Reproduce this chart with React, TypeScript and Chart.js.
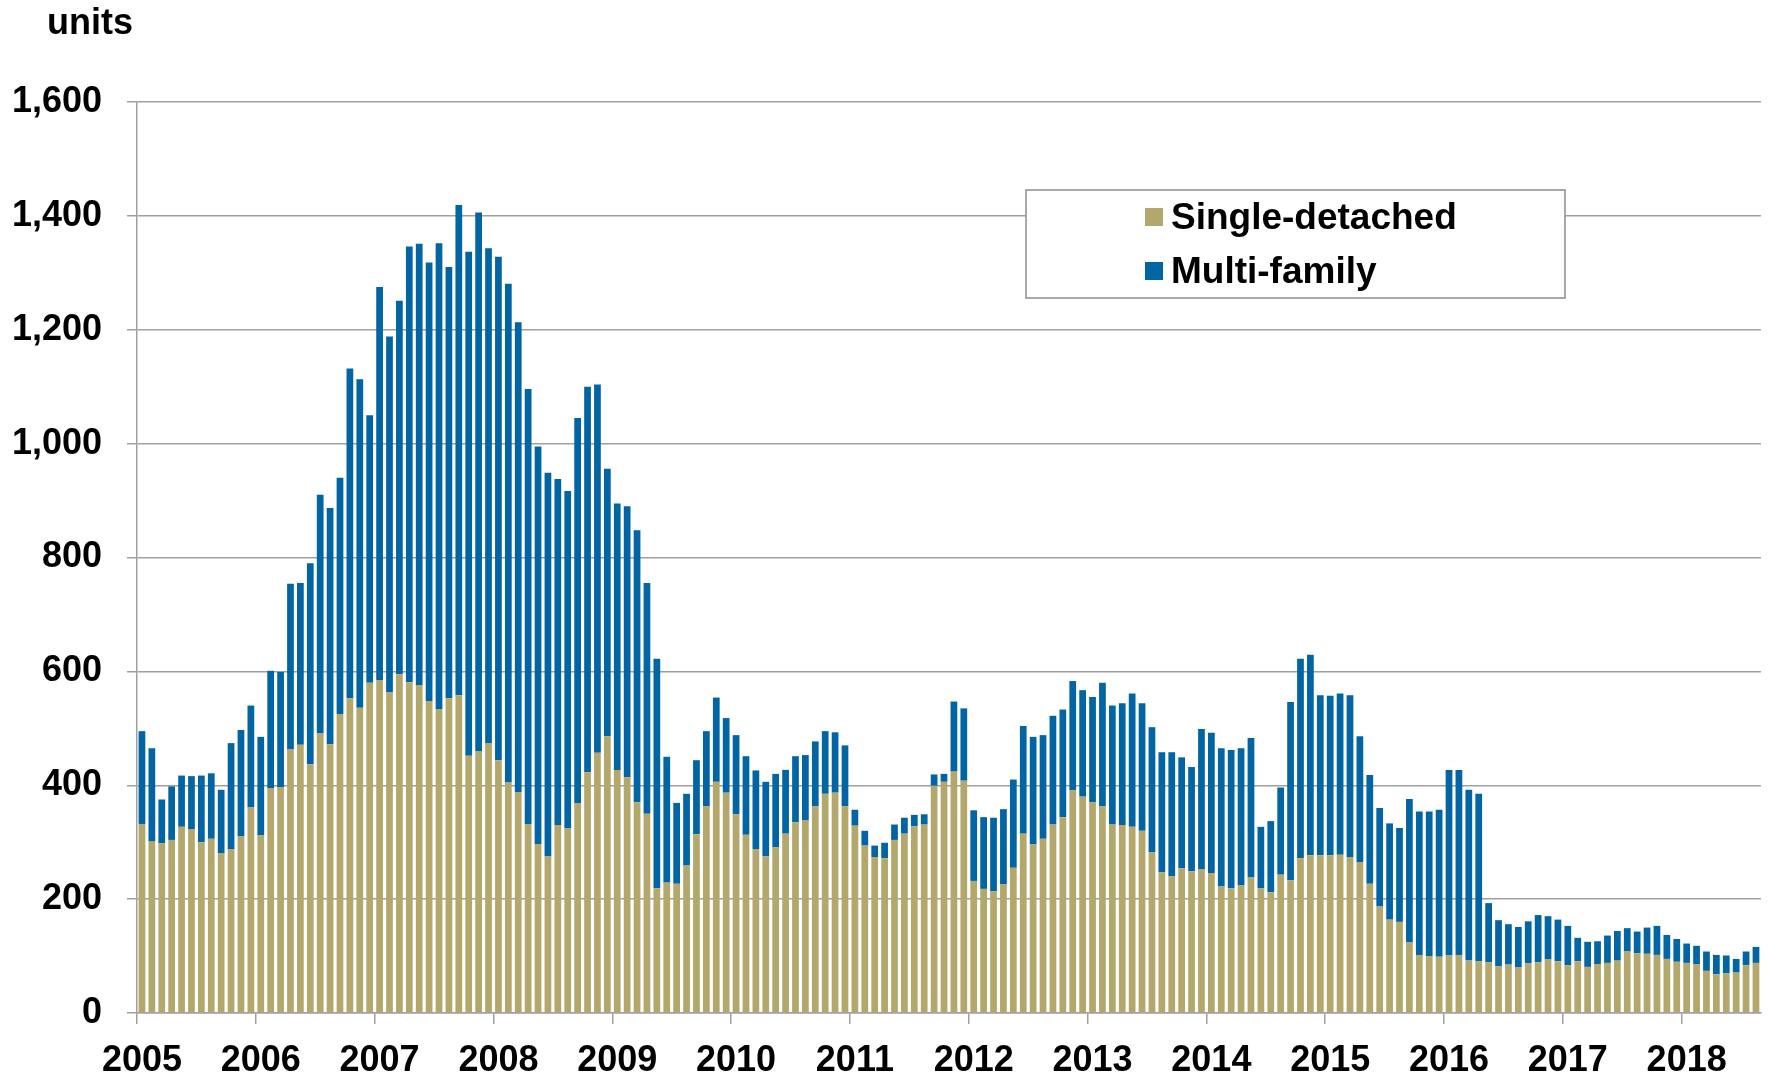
import React, { useEffect, useRef } from 'react';
import { Chart, registerables } from 'chart.js';

Chart.register(...registerables);

const FIRST_YEAR = 2005;
const MONTH_COUNT = 164; // Jan 2005 .. Aug 2018

const categories: string[] = [];
for (let i = 0; i < MONTH_COUNT; i++) {
  categories.push(`${FIRST_YEAR + Math.floor(i / 12)}-${String((i % 12) + 1).padStart(2, '0')}`);
}

const singleDetached: number[] = [
  // 2005
  332, 301, 298, 304, 327, 323, 300, 306, 281, 288, 310, 361,
  // 2006
  312, 395, 397, 463, 471, 437, 491, 472, 525, 553, 536, 580,
  // 2007
  585, 563, 595, 581, 576, 548, 534, 553, 558, 452, 460, 474,
  // 2008
  444, 405, 388, 332, 297, 275, 330, 324, 369, 423, 457, 486,
  // 2009
  427, 414, 370, 350, 219, 229, 227, 259, 314, 363, 406, 387,
  // 2010
  349, 313, 288, 275, 291, 315, 335, 338, 363, 385, 387, 363,
  // 2011
  329, 294, 274, 272, 304, 315, 328, 331, 399, 406, 424, 408,
  // 2012
  232, 218, 214, 226, 255, 315, 296, 306, 331, 344, 391, 380,
  // 2013
  370, 363, 331, 330, 327, 320, 282, 247, 240, 254, 249, 252,
  // 2014
  246, 222, 219, 224, 238, 219, 212, 243, 233, 272, 277, 277,
  // 2015
  277, 278, 274, 265, 227, 187, 164, 160, 124, 102, 100, 99,
  // 2016
  101, 102, 92, 91, 89, 82, 85, 80, 87, 89, 94, 91,
  // 2017
  84, 91, 81, 86, 88, 92, 108, 105, 104, 102, 95, 90,
  // 2018
  88, 86, 74, 68, 70, 71, 84, 88,
];

const multiFamily: number[] = [
  // 2005
  163, 164, 77, 94, 90, 93, 117, 115, 111, 186, 187, 179,
  // 2006
  173, 206, 202, 291, 284, 353, 419, 415, 415, 579, 577, 470,
  // 2007
  690, 625, 656, 765, 775, 770, 818, 757, 861, 885, 946, 869,
  // 2008
  884, 876, 825, 764, 698, 674, 608, 593, 676, 677, 647, 470,
  // 2009
  468, 476, 478, 405, 403, 221, 142, 126, 130, 132, 148, 131,
  // 2010
  139, 138, 138, 131, 129, 112, 116, 115, 114, 110, 106, 107,
  // 2011
  28, 26, 20, 27, 27, 28, 20, 18, 20, 14, 123, 127,
  // 2012
  124, 126, 129, 132, 155, 189, 189, 182, 191, 189, 192, 187,
  // 2013
  185, 217, 209, 214, 234, 224, 220, 211, 218, 195, 183, 247,
  // 2014
  246, 243, 243, 241, 245, 108, 125, 153, 313, 350, 352, 281,
  // 2015
  280, 283, 284, 221, 191, 173, 169, 165, 252, 252, 254, 258,
  // 2016
  326, 325, 300, 294, 104, 81, 71, 71, 74, 83, 76, 73,
  // 2017
  69, 41, 44, 40, 48, 52, 41, 38, 46, 51, 42, 40,
  // 2018
  34, 32, 34, 34, 31, 24, 24, 28,
];

const seriesNames = ['Single-detached', 'Multi-family'];
const seriesColors = ['#B4A76C', '#0065A2'];
const axisTitle = 'units';

const FONT = 'Arial, "Liberation Sans", Helvetica, sans-serif';
const GRID = '#A0A0A0';

const overlayPlugin = {
  id: 'overlay',
  afterDraw(chart: any) {
    const ctx = chart.ctx as CanvasRenderingContext2D;
    ctx.save();
    // axis unit title
    ctx.font = `bold 36px ${FONT}`;
    ctx.fillStyle = '#000';
    ctx.textBaseline = 'alphabetic';
    ctx.textAlign = 'left';
    ctx.fillText(axisTitle, 47, 34);

    // legend box
    const bx = 1026, by = 190, bw = 539, bh = 108;
    ctx.fillStyle = '#FFFFFF';
    ctx.fillRect(bx, by, bw, bh);
    ctx.strokeStyle = '#8C8C8C';
    ctx.lineWidth = 1.5;
    ctx.strokeRect(bx, by, bw, bh);

    ctx.font = `bold 37px ${FONT}`;
    const baselines = [229, 283];
    seriesNames.forEach((name, i) => {
      ctx.fillStyle = seriesColors[i];
      ctx.fillRect(1145, baselines[i] - 21, 18, 18);
      ctx.fillStyle = '#000';
      ctx.fillText(name, 1171, baselines[i]);
    });
    ctx.restore();
  },
};

export default function App() {
  const canvasRef = useRef<HTMLCanvasElement | null>(null);

  useEffect(() => {
    if (!canvasRef.current) return;
    const chart = new Chart(canvasRef.current, {
      type: 'bar',
      data: {
        labels: categories,
        datasets: [
          {
            label: seriesNames[0],
            data: singleDetached,
            backgroundColor: seriesColors[0],
            borderWidth: 0,
            barPercentage: 0.68,
            categoryPercentage: 1,
          },
          {
            label: seriesNames[1],
            data: multiFamily,
            backgroundColor: seriesColors[1],
            borderWidth: 0,
            barPercentage: 0.68,
            categoryPercentage: 1,
          },
        ],
      },
      options: {
        animation: false,
        responsive: false,
        maintainAspectRatio: false,
        devicePixelRatio: 1,
        layout: { padding: { top: 102, right: 9, bottom: 0, left: 0 } },
        plugins: {
          legend: { display: false },
          tooltip: { enabled: false },
          title: { display: false },
        },
        scales: {
          x: {
            stacked: true,
            offset: true,
            afterFit: (scale: any) => {
              scale.height = 62;
            },
            grid: {
              offset: true,
              drawOnChartArea: false,
              drawTicks: true,
              tickLength: 11,
              lineWidth: 1.5,
              color: (ctx: any) => (ctx.index % 12 === 0 ? GRID : 'rgba(0,0,0,0)'),
            },
            border: { display: true, color: GRID, width: 1.5 },
            ticks: {
              autoSkip: false,
              maxRotation: 0,
              minRotation: 0,
              padding: 15,
              color: '#000',
              font: { family: FONT, size: 36, weight: 'bold' },
              callback: (_v: any, index: number) =>
                index % 12 === 0 ? String(FIRST_YEAR + index / 12) : '',
            },
          },
          y: {
            stacked: true,
            min: 0,
            max: 1600,
            afterFit: (scale: any) => {
              scale.width = 137;
            },
            grid: {
              color: GRID,
              lineWidth: 1.5,
              drawTicks: true,
              tickLength: 10,
            },
            border: { display: true, color: GRID, width: 1.5 },
            ticks: {
              stepSize: 200,
              padding: 25,
              color: '#000',
              font: { family: FONT, size: 36, weight: 'bold' },
              callback: (v: any) => Number(v).toLocaleString('en-US'),
            },
          },
        },
      },
      plugins: [overlayPlugin],
    } as any);
    return () => chart.destroy();
  }, []);

  return (
    <div style={{ position: 'absolute', left: 0, top: 0, width: 1771, height: 1075, background: '#fff' }}>
      <canvas ref={canvasRef} width={1771} height={1075} style={{ width: 1771, height: 1075, display: 'block' }} />
    </div>
  );
}
